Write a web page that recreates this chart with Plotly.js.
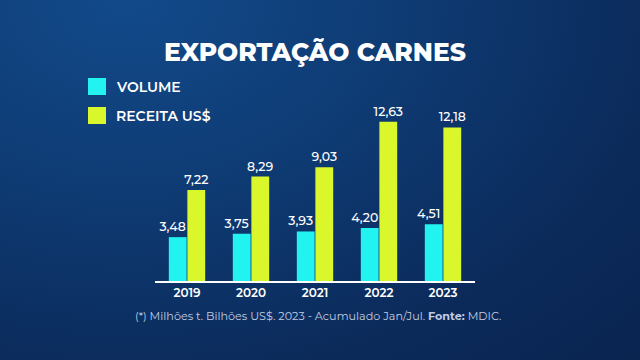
<!DOCTYPE html>
<html>
<head>
<meta charset="utf-8">
<script src="https://cdn.plot.ly/plotly-3.0.1.min.js"></script>
<style>
html,body{margin:0;padding:0;width:640px;height:360px;overflow:hidden;
background: radial-gradient(ellipse at 20% 0%, #124a8a 0%, #0e3a72 40%, #0b2a5a 75%, #0a2450 100%);}
#chart{width:640px;height:360px;}
</style>
</head>
<body>
<div id="chart"></div>
<script>
const years = ['2019','2020','2021','2022','2023'];
const volume = [3.48, 3.75, 3.93, 4.20, 4.51];
const receita = [7.22, 8.29, 9.03, 12.63, 12.18];
const seriesNames = ['VOLUME', 'RECEITA US$'];
const titleText = 'EXPORTAÇÃO CARNES';
const footerText = '(*) Milhões t. Bilhões US$. 2023 - Acumulado Jan/Jul. <b>Fonte:</b> MDIC.';

const fmt = v => v.toFixed(2).replace('.', ',');
const cyan = '#22f3f0';
const lime = '#d9f72a';
const font = 'Montserrat, "Open Sans", Lato, sans-serif';
const pad = '\u00a0\u00a0\u00a0';

const traces = [
  {type:'bar', x: years, y: volume, name: seriesNames[0], marker:{color: cyan},
   text: volume.map(fmt), texttemplate: '%{text}' + pad, textposition:'outside', cliponaxis:false, constraintext:'none',
   textfont:{color:'#ffffff', size:12.5, family:font, weight:500}, showlegend:false, hoverinfo:'none'},
  {type:'bar', x: years, y: receita, name: seriesNames[1], marker:{color: lime},
   text: receita.map(fmt), textposition:'outside', cliponaxis:false, constraintext:'none',
   textfont:{color:'#ffffff', size:12.5, family:font, weight:500}, showlegend:false, hoverinfo:'none'}
];

const L = 155, R = 165, T = 100, B = 79;
const pw = 640 - L - R, ph = 360 - T - B;
const px = x => (x - L) / pw;
const py = y => (360 - B - y) / ph;

const layout = {
  width: 640, height: 360,
  margin: {l: L, r: R, t: T, b: B, pad: 0},
  paper_bgcolor: 'rgba(0,0,0,0)',
  plot_bgcolor: 'rgba(0,0,0,0)',
  barmode: 'group', bargap: 0.42, bargroupgap: 0.04,
  font: {family: font, color: '#ffffff'},
  title: {text: titleText, x: 0.5, xref: 'paper', xanchor: 'center',
          y: 1 - 52/360, yref: 'container', yanchor: 'middle',
          font: {size: 25, color: '#ffffff', family: font, weight: 800}},
  xaxis: {type: 'category', showgrid: false, zeroline: false, showline: true,
          linecolor: '#ffffff', linewidth: 1.5, ticks: '', ticklen: 0,
          tickfont: {size: 12, color: '#ffffff', family: font, weight: 600}, fixedrange: true},
  yaxis: {range: [0, 14.36], visible: false, showgrid: false, zeroline: false, fixedrange: true},
  shapes: [
    {type:'rect', xref:'paper', yref:'paper', x0: px(88), x1: px(106), y0: py(95), y1: py(78),
     fillcolor: cyan, line:{width:0}},
    {type:'rect', xref:'paper', yref:'paper', x0: px(88), x1: px(106), y0: py(124), y1: py(107),
     fillcolor: lime, line:{width:0}}
  ],
  annotations: [
    {xref:'paper', yref:'paper', x: px(114), y: py(87), xanchor:'left', yanchor:'middle',
     text: seriesNames[0], showarrow:false, font:{size:14, color:'#ffffff', family:font, weight:600}},
    {xref:'paper', yref:'paper', x: px(114), y: py(116), xanchor:'left', yanchor:'middle',
     text: seriesNames[1], showarrow:false, font:{size:14, color:'#ffffff', family:font, weight:600}},
    {xref:'paper', yref:'paper', x: px(318), y: py(316), xanchor:'center', yanchor:'middle',
     text: footerText, showarrow:false, font:{size:11.2, color:'#c2cde2', family:font, weight:400}}
  ]
};

Plotly.newPlot('chart', traces, layout, {displayModeBar: false, staticPlot: true});
</script>
</body>
</html>
